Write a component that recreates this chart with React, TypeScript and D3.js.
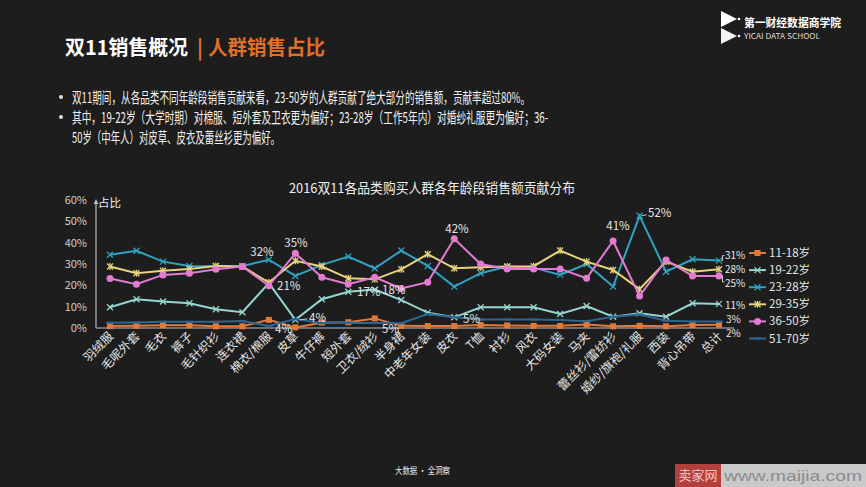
import React from "react";
import * as d3 from "d3";

const categories = ["羽绒服","毛呢外套","毛衣","裤子","毛针织衫","连衣裙","棉衣/棉服","皮草","牛仔裤","短外套","卫衣/绒衫","半身裙","中老年女装","皮衣","T恤","衬衫","风衣","大码女装","马夹","蕾丝衫/雷纺衫","婚纱/旗袍/礼服","西装","背心吊带","总计"];

const s1118 = [0.9,1,1.3,1.3,0.8,0.8,3.8,0.3,2.5,2.7,4.5,1,0.9,0.9,1.4,1.2,1,1,1.6,0.8,1,0.8,1.4,1.5];
const s1922 = [9.7,13.5,12.4,11.6,8.8,7.4,21,3.8,13.5,17,18,13.1,7.2,5,9.7,9.7,9.7,6.6,10.3,5.3,6.9,5.3,11.6,11.3];
const s2328 = [34.3,36.2,31.1,29.1,29,29,32,24.4,29.6,33.5,28,36.3,29.1,19.4,25.7,28.8,28.3,24.9,30,19.4,52.6,26.4,32.2,31.6];
const s2935 = [28.8,25.7,26.8,27.7,29.1,28.8,21.3,31.5,28.8,23.3,22.8,27.5,34.6,28,28.5,28.8,29,36.3,31.1,27.2,18.2,31.1,26.4,27.5];
const s3650 = [23.2,20.5,24.9,25.7,27.5,28.8,19.8,35,23.8,20.5,23.8,18.5,21.5,41.8,30,27.7,27.6,27.7,23.3,40.8,15,31.9,24.4,24.4];
const s5170 = [2.5,2.6,2.9,2.9,2.9,3.3,1,4.2,2.2,2.5,2.3,2.2,6.5,5,4,4,4,3.8,3.2,5.3,6.3,3.4,3,3];

const seriesNames = ["11-18岁","19-22岁","23-28岁","29-35岁","36-50岁","51-70岁"];
const yTicks = [0,10,20,30,40,50,60];

const FONT = "'Noto Sans CJK SC', 'Noto Sans', sans-serif";

type Series = { name: string; values: number[]; color: string; marker: string };

const seriesList: Series[] = [
  { name: seriesNames[0], values: s1118, color: "#e07a3c", marker: "square" },
  { name: seriesNames[1], values: s1922, color: "#93d6d2", marker: "x" },
  { name: seriesNames[2], values: s2328, color: "#2fa3c2", marker: "x" },
  { name: seriesNames[3], values: s2935, color: "#e8d47a", marker: "star" },
  { name: seriesNames[4], values: s3650, color: "#e37bd2", marker: "circle" },
  { name: seriesNames[5], values: s5170, color: "#2c6592", marker: "dash" },
];

function Marker({ type, x, y, color }: { type: string; x: number; y: number; color: string }) {
  if (type === "square") return <rect x={x - 3} y={y - 3} width={6} height={6} fill={color} />;
  if (type === "circle") return <circle cx={x} cy={y} r={3.5} fill={color} />;
  if (type === "x")
    return (
      <g stroke={color} strokeWidth={1.3}>
        <line x1={x - 3} y1={y - 3} x2={x + 3} y2={y + 3} />
        <line x1={x - 3} y1={y + 3} x2={x + 3} y2={y - 3} />
      </g>
    );
  if (type === "star")
    return (
      <g stroke={color} strokeWidth={1.3}>
        <line x1={x - 3} y1={y - 3} x2={x + 3} y2={y + 3} />
        <line x1={x - 3} y1={y + 3} x2={x + 3} y2={y - 3} />
        <line x1={x} y1={y - 3.5} x2={x} y2={y + 3.5} />
      </g>
    );
  if (type === "dash") return <line x1={x - 4} y1={y} x2={x + 4} y2={y} stroke={color} strokeWidth={2} />;
  return null;
}

export default function App() {
  const W = 866, H = 487;
  const x = d3.scalePoint<string>().domain(categories).range([110, 719]);
  const y = d3.scaleLinear().domain([0, 60]).range([328, 200]);
  const line = d3.line<number>().x((_, i) => x(categories[i]) as number).y((d) => y(d));

  const px = (i: number) => x(categories[i]) as number;

  const labels: { t: string; x: number; y: number; anchor?: string; fs?: number }[] = [
    { t: "32%", x: 262, y: 256, anchor: "middle" },
    { t: "21%", x: 277, y: 290 },
    { t: "35%", x: 296, y: 247, anchor: "middle" },
    { t: "4%", x: 309, y: 322 },
    { t: "4%", x: 275, y: 333 },
    { t: "17%", x: 357, y: 296 },
    { t: "18%", x: 382, y: 294 },
    { t: "42%", x: 457, y: 233, anchor: "middle" },
    { t: "5%", x: 382, y: 333 },
    { t: "5%", x: 463, y: 323 },
    { t: "41%", x: 618, y: 230, anchor: "middle" },
    { t: "52%", x: 648, y: 217 },
    { t: "31%", x: 725, y: 259, fs: 10 },
    { t: "28%", x: 725, y: 273, fs: 10 },
    { t: "25%", x: 725, y: 287, fs: 10 },
    { t: "11%", x: 725, y: 309, fs: 10 },
    { t: "3%", x: 726, y: 322.5, fs: 10 },
    { t: "2%", x: 726, y: 336.5, fs: 10 },
  ];

  return (
    <svg
      width={W}
      height={H}
      style={{ position: "absolute", left: 0, top: 0, display: "block" }}
      fontFamily={FONT}
    >
      <rect width={W} height={H} fill="#1d1d1d" />

      {/* Header */}
      <text x={65} y={55} fill="#ffffff" fontSize={20} fontWeight="bold" textLength={123} lengthAdjust="spacingAndGlyphs">双11销售概况</text>
      <text x={197} y={55} fill="#e06f2a" fontSize={20} fontWeight="bold">|</text>
      <text x={208} y={55} fill="#e06f2a" fontSize={20} fontWeight="bold" textLength={117} lengthAdjust="spacingAndGlyphs">人群销售占比</text>

      {/* Logo */}
      <g fill="#ffffff">
        <polygon points="721,11 737,19 721,27" />
        <polygon points="721,28 737,36 721,44" opacity={0.95} />
        <circle cx={739} cy={19} r={1.3} />
        <circle cx={739} cy={36} r={1.3} />
      </g>
      <text x={744} y={27} fill="#ffffff" fontSize={11.5} fontWeight="bold" textLength={97} lengthAdjust="spacingAndGlyphs">第一财经数据商学院</text>
      <text x={744} y={39} fill="#dddddd" fontSize={8} textLength={76} lengthAdjust="spacingAndGlyphs">YICAI DATA SCHOOL</text>

      {/* Bullets */}
      <circle cx={61} cy={97} r={2} fill="#dddddd" />
      <text x={72} y={102.5} fill="#f2f2f2" fontSize={15} textLength={458} lengthAdjust="spacingAndGlyphs">双11期间，从各品类不同年龄段销售贡献来看，23-50岁的人群贡献了绝大部分的销售额，贡献率超过80%。</text>
      <circle cx={61} cy={117} r={2} fill="#dddddd" />
      <text x={72} y={122.5} fill="#f2f2f2" fontSize={15} textLength={476} lengthAdjust="spacingAndGlyphs">其中，19-22岁（大学时期）对棉服、短外套及卫衣更为偏好；23-28岁（工作5年内）对婚纱礼服更为偏好；36-</text>
      <text x={72} y={142.5} fill="#f2f2f2" fontSize={15} textLength={208} lengthAdjust="spacingAndGlyphs">50岁（中年人）对皮草、皮衣及蕾丝衫更为偏好。</text>

      {/* Chart title */}
      <text x={432} y={193} fill="#eeeeee" fontSize={13.5} textAnchor="middle" textLength={286} lengthAdjust="spacingAndGlyphs">2016双11各品类购买人群各年龄段销售额贡献分布</text>

      {/* Y axis */}
      {yTicks.map((t) => (
        <text key={t} x={87} y={y(t) + 4} fill="#d0d0d0" fontSize={11} textAnchor="end">{t}%</text>
      ))}
      <line x1={96} y1={y(0)} x2={96} y2={202} stroke="#bbbbbb" strokeWidth={1.2} />
      <polygon points="93.5,204 96,199 98.5,204" fill="#bbbbbb" />
      <text x={98} y={207} fill="#eeeeee" fontSize={11.5}>占比</text>
      <line x1={96} y1={y(0)} x2={734} y2={y(0)} stroke="#8a8a8a" strokeWidth={1.5} />

      {/* X labels */}
      {categories.map((c, i) => (
        <text
          key={c}
          transform={`translate(${px(i) + 4},${337}) rotate(-45)`}
          fill="#e6e6e6"
          fontSize={12}
          textAnchor="end"
        >
          {c}
        </text>
      ))}

      {/* Lines */}
      {seriesList.map((s) => (
        <g key={s.name}>
          <path d={line(s.values) as string} fill="none" stroke={s.color} strokeWidth={2} />
          {s.values.map((v, i) => (
            <Marker key={i} type={s.marker} x={px(i)} y={y(v)} color={s.color} />
          ))}
        </g>
      ))}

      {/* Leaders */}
      <g stroke="#cccccc" strokeWidth={1} fill="none">
        <line x1={px(7) + 4} y1={y(s1922[7])} x2={px(7) + 12} y2={y(s1922[7]) - 1} />
        <line x1={px(20) + 2} y1={y(s2328[20])} x2={px(20) + 7} y2={y(s2328[20]) - 1} />
        <polyline points={`${px(23) + 2},${y(s2328[23])} ${px(23) + 3.5},${y(s2328[23])} ${px(23) + 3.5},${y(s2328[23]) - 5} ${px(23) + 5.5},${y(s2328[23]) - 5}`} />
        <polyline points={`${px(23) + 2},${y(s3650[23])} ${px(23) + 3.5},${y(s3650[23])} ${px(23) + 3.5},${y(s3650[23]) + 6} ${px(23) + 5.5},${y(s3650[23]) + 6}`} />
      </g>

      {/* Data labels */}
      {labels.map((l, i) => (
        <text key={i} x={l.x} y={l.y} fill="#e6e6e6" fontSize={l.fs || 11.5} textAnchor={l.anchor || "start"}>{l.t}</text>
      ))}

      {/* Legend */}
      {seriesList.map((s, i) => {
        const ly = 253 + i * 17.1;
        return (
          <g key={s.name}>
            <line x1={749} y1={ly} x2={766} y2={ly} stroke={s.color} strokeWidth={2} />
            <Marker type={s.marker} x={757.5} y={ly} color={s.color} />
            <text x={769} y={ly + 4} fill="#e6e6e6" fontSize={11.5}>{s.name}</text>
          </g>
        );
      })}

      {/* Footer */}
      <text x={395} y={474} fill="#e6e6e6" fontSize={9.5} textLength={55} lengthAdjust="spacingAndGlyphs">大数据 · 全洞察</text>
      <rect x={675} y={464} width={46} height={23} fill="#b3403d" />
      <text x={698} y={480} fill="#f2c9c6" fontSize={13} textAnchor="middle">卖家网</text>
      <rect x={721} y={464} width={145} height={23} fill="#c9c9c9" />
      <text x={793} y={481} fill="#8c8c8c" fontSize={15} textAnchor="middle" textLength={138} lengthAdjust="spacingAndGlyphs" fontFamily="'Liberation Sans', sans-serif">www.maijia.com</text>
    </svg>
  );
}
